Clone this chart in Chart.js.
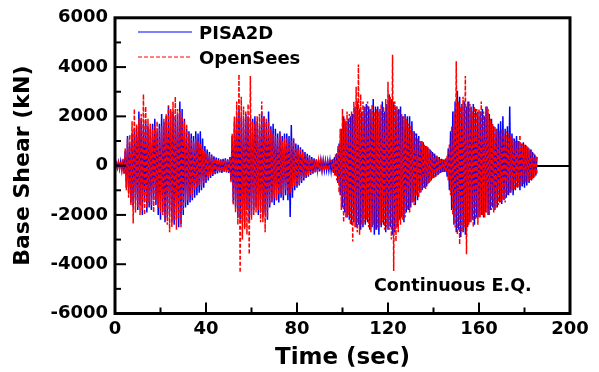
<!DOCTYPE html>
<html>
<head>
<meta charset="utf-8">
<script src="https://cdn.jsdelivr.net/npm/chart.js@4.4.1/dist/chart.umd.min.js"></script>
<style>
  body { margin: 0; background: #fff; }
  canvas { display: block; }
</style>
</head>
<body>
<canvas id="myChart" width="599" height="372"></canvas>
<script>
// Time axis (sec), sampled every 0.5 s
let time = [
  0, 0.5, 1, 1.5, 2, 2.5, 3, 3.5, 4, 4.5,
  5, 5.5, 6, 6.5, 7, 7.5, 8, 8.5, 9, 9.5,
  10, 10.5, 11, 11.5, 12, 12.5, 13, 13.5, 14, 14.5,
  15, 15.5, 16, 16.5, 17, 17.5, 18, 18.5, 19, 19.5,
  20, 20.5, 21, 21.5, 22, 22.5, 23, 23.5, 24, 24.5,
  25, 25.5, 26, 26.5, 27, 27.5, 28, 28.5, 29, 29.5,
  30, 30.5, 31, 31.5, 32, 32.5, 33, 33.5, 34, 34.5,
  35, 35.5, 36, 36.5, 37, 37.5, 38, 38.5, 39, 39.5,
  40, 40.5, 41, 41.5, 42, 42.5, 43, 43.5, 44, 44.5,
  45, 45.5, 46, 46.5, 47, 47.5, 48, 48.5, 49, 49.5,
  50, 50.5, 51, 51.5, 52, 52.5, 53, 53.5, 54, 54.5,
  55, 55.5, 56, 56.5, 57, 57.5, 58, 58.5, 59, 59.5,
  60, 60.5, 61, 61.5, 62, 62.5, 63, 63.5, 64, 64.5,
  65, 65.5, 66, 66.5, 67, 67.5, 68, 68.5, 69, 69.5,
  70, 70.5, 71, 71.5, 72, 72.5, 73, 73.5, 74, 74.5,
  75, 75.5, 76, 76.5, 77, 77.5, 78, 78.5, 79, 79.5,
  80, 80.5, 81, 81.5, 82, 82.5, 83, 83.5, 84, 84.5,
  85, 85.5, 86, 86.5, 87, 87.5, 88, 88.5, 89, 89.5,
  90, 90.5, 91, 91.5, 92, 92.5, 93, 93.5, 94, 94.5,
  95, 95.5, 96, 96.5, 97, 97.5, 98, 98.5, 99, 99.5,
  100, 100.5, 101, 101.5, 102, 102.5, 103, 103.5, 104, 104.5,
  105, 105.5, 106, 106.5, 107, 107.5, 108, 108.5, 109, 109.5,
  110, 110.5, 111, 111.5, 112, 112.5, 113, 113.5, 114, 114.5,
  115, 115.5, 116, 116.5, 117, 117.5, 118, 118.5, 119, 119.5,
  120, 120.5, 121, 121.5, 122, 122.5, 123, 123.5, 124, 124.5,
  125, 125.5, 126, 126.5, 127, 127.5, 128, 128.5, 129, 129.5,
  130, 130.5, 131, 131.5, 132, 132.5, 133, 133.5, 134, 134.5,
  135, 135.5, 136, 136.5, 137, 137.5, 138, 138.5, 139, 139.5,
  140, 140.5, 141, 141.5, 142, 142.5, 143, 143.5, 144, 144.5,
  145, 145.5, 146, 146.5, 147, 147.5, 148, 148.5, 149, 149.5,
  150, 150.5, 151, 151.5, 152, 152.5, 153, 153.5, 154, 154.5,
  155, 155.5, 156, 156.5, 157, 157.5, 158, 158.5, 159, 159.5,
  160, 160.5, 161, 161.5, 162, 162.5, 163, 163.5, 164, 164.5,
  165, 165.5, 166, 166.5, 167, 167.5, 168, 168.5, 169, 169.5,
  170, 170.5, 171, 171.5, 172, 172.5, 173, 173.5, 174, 174.5,
  175, 175.5, 176, 176.5, 177, 177.5, 178, 178.5, 179, 179.5,
  180, 180.5, 181, 181.5, 182, 182.5, 183, 183.5, 184, 184.5,
  185, 185.5
];

// Base shear (kN) - PISA2D
let pisa2d = [
  0, 120, -90, 150, -130, 180, -160, 250, -300, 600,
  -900, 1200, -1100, 900, -1500, 1300, -1700, 1500, -1400, 1600,
  -1800, 2200, -1600, 1900, -2000, 1700, -1500, 1800, -1900, 1600,
  -1700, 1500, -1800, 1700, -1400, 1900, -1600, 1400, -2000, 1700,
  -2200, 2100, -1900, 1800, -2300, 2000, -2100, 2400, -1900, 2200,
  -2300, 2200, -2400, 2000, -2200, 2100, -2500, 2600, -2400, 2300,
  -2000, 1900, -1700, 1500, -1600, 1400, -1500, 1300, -1400, 1200,
  -1300, 1400, -1200, 1300, -1100, 1400, -1000, 1100, -900, 800,
  -700, 650, -600, 550, -500, 450, -420, 380, -350, 330,
  -320, 300, -280, 260, -300, 280, -250, 300, -280, 260,
  -300, 350, -600, 1200, -1500, 1800, -1700, 2000, -2100, 2300,
  -2200, 2000, -2300, 1900, -2500, 2100, -1800, 2000, -2300, 1900,
  -2000, 1900, -1800, 2000, -1700, 1800, -2000, 1600, -1900, 2200,
  -2100, 2000, -1900, 1800, -2200, 2200, -1700, 1600, -1500, 1700,
  -1600, 1500, -1400, 1300, -1500, 1400, -1300, 1200, -1400, 1300,
  -1200, 1300, -1400, 1200, -2080, 1650, -1300, 1100, -1000, 900,
  -900, 850, -800, 750, -700, 650, -600, 550, -500, 480,
  -450, 420, -380, 350, -330, 300, -280, 260, -250, 240,
  -230, 220, -200, 210, -190, 200, -180, 190, -200, 210,
  -220, 250, -300, 350, -400, 500, -700, 900, -1200, 1500,
  -1700, 2000, -1900, 1800, -2100, 1900, -2200, 2000, -2400, 2100,
  -2300, 2400, -2500, 2600, -2400, 2300, -2600, 2200, -2500, 2400,
  -2400, 2500, -2300, 2400, -2600, 2300, -2500, 2700, -2800, 2400,
  -2600, 2400, -2800, 2300, -2500, 2600, -2400, 2200, -2700, 2500,
  -2600, 2900, -2500, 2700, -2800, 2600, -2700, 2400, -2500, 2300,
  -2200, 2400, -2100, 2000, -2300, 2100, -1900, 2000, -1800, 2000,
  -1700, 1800, -1500, 1400, -1600, 1300, -1400, 1200, -1100, 1000,
  -1000, 950, -900, 800, -850, 750, -700, 650, -600, 550,
  -500, 480, -450, 400, -380, 350, -300, 280, -260, 250,
  -260, 300, -450, 700, -1000, 1400, -1800, 2200, -2400, 2600,
  -2700, 3040, -2600, 2800, -2900, 2500, -2700, 2600, -2800, 2400,
  -2500, 2600, -2300, 2400, -2200, 2500, -2400, 2300, -2100, 2200,
  -2100, 2200, -2000, 2300, -2100, 2000, -1900, 2400, -2000, 2100,
  -1800, 1900, -1700, 1600, -1800, 1500, -1700, 1700, -1500, 1800,
  -1560, 2000, -1400, 1500, -1300, 1600, -1200, 2400, -1100, 1300,
  -1200, 1100, -1000, 1200, -900, 1000, -1000, 900, -850, 950,
  -900, 850, -800, 750, -700, 650, -600, 550, -500, 450,
  -400, 350
];

// Base shear (kN) - OpenSees
let opensees = [
  0, 100, -110, 130, -140, 160, -190, 280, -350, 700,
  -1000, 1100, -1300, 1250, -1600, 1800, -2350, 2300, -1900, 1700,
  -1700, 1900, -2000, 2100, -1800, 2900, -2000, 2400, -1700, 1900,
  -1500, 1700, -1600, 1500, -1900, 1600, -1400, 1800, -1700, 1500,
  -1900, 1600, -2000, 1900, -2200, 2100, -2400, 2450, -2700, 2300,
  -2500, 2600, -2200, 2800, -2600, 2300, -2100, 2200, -2500, 2000,
  -1800, 1800, -1500, 1700, -1400, 1300, -1200, 1100, -1300, 1000,
  -1000, 1100, -900, 1000, -800, 900, -850, 700, -700, 600,
  -550, 500, -480, 450, -400, 380, -350, 300, -300, 280,
  -250, 240, -260, 220, -240, 230, -220, 250, -230, 220,
  -250, 300, -700, 1300, -1600, 2000, -1900, 2600, -2400, 3700,
  -4350, 2800, -3000, 2400, -2600, 2200, -2800, 2500, -3600, 3640,
  -2200, 1800, -2000, 1700, -1900, 2000, -1800, 2100, -2300, 2600,
  -2300, 2000, -2700, 1900, -2100, 1800, -1600, 1500, -1400, 1300,
  -1300, 1200, -1400, 1100, -1200, 1300, -1100, 1000, -1200, 1100,
  -1000, 1100, -1200, 900, -1100, 1000, -900, 1100, -800, 700,
  -800, 700, -750, 650, -600, 550, -500, 450, -420, 400,
  -380, 350, -320, 300, -280, 260, -250, 230, -220, 210,
  -200, 190, -180, 170, -190, 180, -170, 160, -180, 190,
  200, -230, 280, -400, 500, -600, 800, -1100, 1500, -1800,
  2300, -2300, 1900, -2100, 2200, -2000, 2100, -2400, 2200, -3080,
  2600, -2500, 3200, -2700, 4100, -2800, 2900, -2400, 2600, -2300,
  2400, -2200, 2600, -2500, 2300, -2700, 2500, -2400, 2200, -2600,
  2300, -2500, 2200, -2400, 2500, -2300, 2400, -2600, 2700, -2500,
  3400, -2600, 2800, -3000, 4500, -4280, 2600, -3080, 2400, -2700,
  2300, -2400, 2100, -2200, 2000, -2100, 1900, -1800, 1700, -1900,
  1600, -1500, 1400, -1600, 1300, -1200, 1100, -1300, 1000, -1100,
  1000, -900, 850, -950, 800, -750, 700, -650, 600, -550,
  500, -480, 420, -400, 350, -330, 300, -280, 260, -250,
  250, -280, 400, -600, 900, -1200, 1600, -2000, 2200, -2500,
  4240, -2800, 2600, -3200, 2400, -2700, 2800, -2500, 3640, -3600,
  2600, -2400, 2500, -2300, 2200, -2500, 2400, -2200, 2300, -2400,
  2300, -2100, 2600, -2000, 2200, -2100, 2400, -1900, 2300, -2000,
  1900, -1800, 1700, -1900, 1600, -1700, 1500, -1600, 1400, -1500,
  1500, -1400, 1300, -1500, 1400, -1200, 1300, -1100, 1200, -1000,
  1100, -1000, 1000, -900, 1000, -850, 1240, -800, 900, -750,
  850, -700, 800, -650, 700, -600, 650, -550, 500, -450,
  400, -350
];

let seriesNames = ['PISA2D', 'OpenSees'];
let xTicks = [0, 40, 80, 120, 160, 200];
let yTicks = [-6000, -4000, -2000, 0, 2000, 4000, 6000];
let note = 'Continuous E.Q.';

const FONT = 'DejaVu Sans';

// frame, inward ticks, legend and note
const framePlugin = {
    id: 'frame',
    afterDraw(chart) {
        const ctx = chart.ctx;
        const a = chart.chartArea;
        const xs = chart.scales.x;
        const ys = chart.scales.y;
        ctx.save();
        ctx.strokeStyle = '#000';
        ctx.lineWidth = 2;
        // minor/major ticks on the left axis
        for (let v = -5000; v <= 5000; v += 1000) {
            const py = ys.getPixelForValue(v);
            const len = (v % 2000 === 0) ? 11 : 6;
            ctx.beginPath();
            ctx.moveTo(a.left, py);
            ctx.lineTo(a.left + len, py);
            ctx.stroke();
        }
        // ticks on the bottom axis
        for (let v = 20; v < 200; v += 20) {
            const px = xs.getPixelForValue(v);
            const len = (v % 40 === 0) ? 11 : 6;
            ctx.beginPath();
            ctx.moveTo(px, a.bottom);
            ctx.lineTo(px, a.bottom - len);
            ctx.stroke();
        }
        ctx.lineWidth = 3;
        ctx.strokeRect(a.left, a.top, a.right - a.left, a.bottom - a.top);

        // legend
        const ds = chart.data.datasets;
        const rows = [32, 57];
        ctx.font = 'bold 18px "' + FONT + '"';
        ctx.textBaseline = 'alphabetic';
        ctx.fillStyle = '#000';
        ds.forEach(function(d, i) {
            ctx.beginPath();
            ctx.lineWidth = 1;
            ctx.strokeStyle = d.borderColor;
            ctx.setLineDash(d.borderDash || []);
            ctx.moveTo(138, rows[i]);
            ctx.lineTo(192, rows[i]);
            ctx.stroke();
            ctx.setLineDash([]);
            ctx.fillText(d.label, 199, rows[i] + 7);
        });

        // note
        ctx.font = 'bold 17.5px "' + FONT + '"';
        ctx.fillText(note, 374, 291);
        ctx.restore();
    }
};

document.addEventListener("DOMContentLoaded", function() {
    let ctx = document.getElementById('myChart').getContext('2d');
    let myChart = new Chart(ctx, {
        type: 'line',
        data: {
            datasets: [{
                label: seriesNames[0],
                data: time.map((t, i) => ({ x: t, y: pisa2d[i] })),
                borderColor: '#0000ff',
                borderWidth: 1.5,
                pointRadius: 0,
                tension: 0,
                order: 1
            }, {
                label: seriesNames[1],
                data: time.map((t, i) => ({ x: t, y: opensees[i] })),
                borderColor: '#ff0000',
                borderWidth: 1.5,
                borderDash: [4, 2],
                pointRadius: 0,
                tension: 0,
                order: 0
            }]
        },
        options: {
            responsive: false,
            animation: false,
            layout: { padding: { left: 0, top: 13.5, right: 29, bottom: 0 } },
            plugins: {
                legend: { display: false },
                tooltip: { enabled: false }
            },
            scales: {
                x: {
                    type: 'linear',
                    min: 0,
                    max: 200,
                    afterBuildTicks: function(scale) {
                        scale.ticks = xTicks.map(v => ({ value: v }));
                    },
                    afterFit: function(scale) { scale.height = 58.5; },
                    ticks: {
                        color: '#000',
                        padding: 5,
                        maxRotation: 0,
                        callback: v => String(v),
                        font: { family: FONT, size: 18, weight: 'bold' }
                    },
                    grid: { display: false, drawTicks: false },
                    border: { display: false },
                    title: {
                        display: true,
                        text: 'Time (sec)',
                        color: '#000',
                        padding: { top: 0, bottom: 0 },
                        font: { family: FONT, size: 23, weight: 'bold' }
                    }
                },
                y: {
                    min: -6000,
                    max: 6000,
                    afterBuildTicks: function(scale) {
                        scale.ticks = yTicks.map(v => ({ value: v }));
                    },
                    afterFit: function(scale) { scale.width = 115; },
                    ticks: {
                        color: '#000',
                        padding: 7,
                        callback: v => String(v),
                        font: { family: FONT, size: 18, weight: 'bold' }
                    },
                    grid: {
                        drawTicks: false,
                        lineWidth: 2,
                        color: c => (c.tick && c.tick.value === 0) ? '#000' : 'rgba(0,0,0,0)'
                    },
                    border: { display: false },
                    title: {
                        display: true,
                        text: 'Base Shear (kN)',
                        color: '#000',
                        padding: { top: 10, bottom: 0 },
                        font: { family: FONT, size: 22, weight: 'bold' }
                    }
                }
            }
        },
        plugins: [framePlugin]
    });
});
</script>
</body>
</html>
